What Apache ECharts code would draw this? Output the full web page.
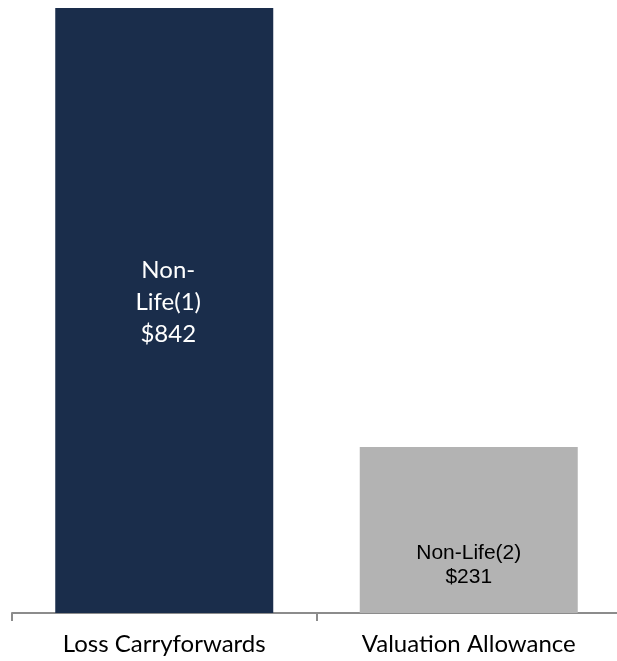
<!DOCTYPE html>
<html><head><meta charset="utf-8">
<script src="https://cdn.jsdelivr.net/npm/echarts@6/dist/echarts.min.js"></script>
<style>html,body{margin:0;padding:0;background:#fff}#c{width:617px;height:661px}</style>
</head><body><div id="c"></div>
<script>
const categories = ['Loss Carryforwards', 'Valuation Allowance'];
const values = [842, 231];
const barLabels = ['Non-\nLife(1)\n$842', 'Non-Life(2)\n$231'];
const barColors = ['#1a2d4b', '#b3b3b3'];

const chart = echarts.init(document.getElementById('c'));
chart.setOption({
  animation: false,
  grid: {left: 12, width: 609, top: 8, bottom: 48, containLabel: false, outerBoundsMode: 'none'},
  xAxis: {
    type: 'category', data: categories,
    axisLine: {lineStyle: {color: '#8c8c8c', width: 2}},
    axisTick: {show: true, length: 8, lineStyle: {color: '#8c8c8c', width: 2}},
    axisLabel: {color: '#000', fontFamily: 'Lato', fontSize: 24, margin: 19}
  },
  yAxis: {type: 'value', min: 0, max: 842, show: false, splitLine: {show: false}},
  series: [{
    type: 'bar', barWidth: 218,
    data: values.map((v, i) => ({
      value: v,
      itemStyle: {color: barColors[i]},
      label: i === 0 ? {
        show: true, position: 'inside', formatter: barLabels[i], offset: [4, -8],
        color: '#fff', fontFamily: 'Lato', fontSize: 24, lineHeight: 32
      } : {
        show: true, position: 'inside', formatter: barLabels[i], offset: [0, 35],
        color: '#000', fontFamily: 'Liberation Sans', fontSize: 21, lineHeight: 24
      }
    }))
  }]
});
</script></body></html>
